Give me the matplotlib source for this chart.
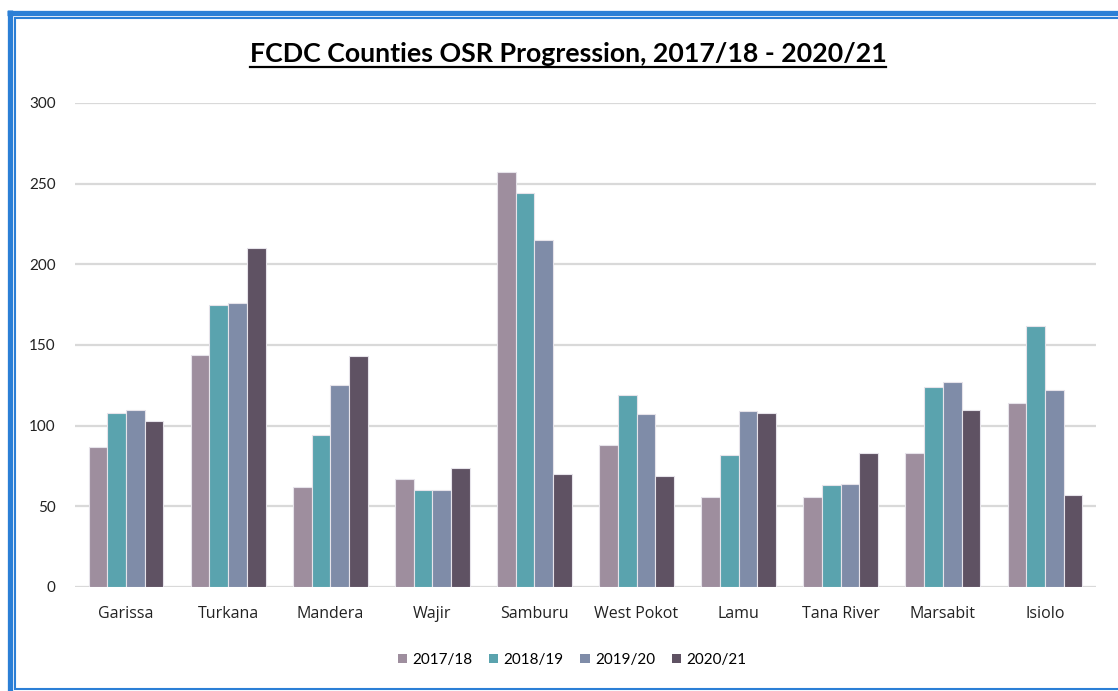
import matplotlib
matplotlib.use("Agg")
import matplotlib.pyplot as plt
import numpy as np
from matplotlib.lines import Line2D
from matplotlib.patches import Patch

counties = ["Garissa", "Turkana", "Mandera", "Wajir", "Samburu", "West Pokot",
            "Lamu", "Tana River", "Marsabit", "Isiolo"]
series_names = ["2017/18", "2018/19", "2019/20", "2020/21"]
v_2017_18 = [87, 144, 62, 67, 257, 88, 56, 56, 83, 114]
v_2018_19 = [108, 175, 94, 60, 244, 119, 82, 63, 124, 162]
v_2019_20 = [110, 176, 125, 60, 215, 107, 109, 64, 127, 122]
v_2020_21 = [103, 210, 143, 74, 70, 69, 108, 83, 110, 57]
yticks = [0, 50, 100, 150, 200, 250, 300]
title = "FCDC Counties OSR Progression, 2017/18 - 2020/21"

colors = ["#9E8E9E", "#5AA3AE", "#7F8CA8", "#5F5263"]
series = [v_2017_18, v_2018_19, v_2019_20, v_2020_21]

W, H = 1118, 691
fig = plt.figure(figsize=(W / 100, H / 100), dpi=100)
fig.patch.set_facecolor("white")

# axes placement in pixel coords
left, right, top, bottom = 75, 1096, 103, 587
ax = fig.add_axes([left / W, 1 - bottom / H, (right - left) / W, (bottom - top) / H])

x = np.arange(len(counties))
bw = 0.183
for i, (vals, c, name) in enumerate(zip(series, colors, series_names)):
    ax.bar(x + (i - 1.5) * bw, vals, width=bw, color=c, edgecolor="#E6E3EA",
           linewidth=0.8, label=name, zorder=3)

ax.set_ylim(0, 300)
ax.set_xlim(-0.5, len(counties) - 0.5)
ax.set_yticks(yticks)
ax.set_yticklabels([str(t) for t in yticks], fontfamily="Lato", fontsize=11, color="#222222")
ax.set_xticks(x)
ax.set_xticklabels(counties, fontfamily="Open Sans", fontsize=11.5, color="#222222")
ax.tick_params(axis="both", length=0)
ax.tick_params(axis="y", pad=14)
ax.tick_params(axis="x", pad=14)
ax.grid(axis="y", color="#D9D9D9", linewidth=1.6, zorder=0)
for s in ax.spines.values():
    s.set_visible(False)
ax.set_axisbelow(True)

# title
t = fig.text(568 / W, 1 - 54 / H, title, ha="center", va="center",
             fontfamily="Lato", fontweight="bold", fontsize=19.3, color="black")

# legend
handles = [Patch(facecolor=c, edgecolor="none") for c in colors]
fig.legend(handles, series_names, loc="center", bbox_to_anchor=(572 / W, 1 - 660 / H),
           ncol=4, frameon=False, prop={"family": "Lato", "size": 11},
           handlelength=0.6, handleheight=0.6, handletextpad=0.35, columnspacing=1.1)

# underline title
fig.canvas.draw()
bb = t.get_window_extent(renderer=fig.canvas.get_renderer())
uy = 1 - 67 / H
fig.add_artist(Line2D([bb.x0 / W, bb.x1 / W], [uy, uy], color="black", linewidth=1.6,
                      transform=fig.transFigure))

# blue border
blue = "#2B7FD6"
def hline(y, x0, x1, lw):
    fig.add_artist(Line2D([x0 / W, x1 / W], [1 - y / H, 1 - y / H], color=blue,
                          linewidth=lw, transform=fig.transFigure, solid_capstyle="butt"))
def vline(xp, y0, y1, lw):
    fig.add_artist(Line2D([xp / W, xp / W], [1 - y0 / H, 1 - y1 / H], color=blue,
                          linewidth=lw, transform=fig.transFigure, solid_capstyle="butt"))

hline(12.5, 7, W, 3.8)
vline(9.5, 10, H, 3.8)
hline(18, 14, W, 1.5)
vline(15, 17, 689, 1.5)
hline(689, 14, W, 1.5)

fig.savefig("out.png", dpi=100, facecolor="white")
